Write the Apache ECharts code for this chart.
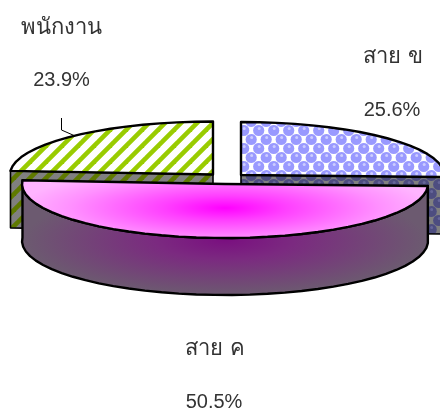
<!DOCTYPE html>
<html>
<head>
<meta charset="utf-8">
<style>html,body{margin:0;padding:0;background:#fff}#c{width:440px;height:410px}</style>
<script src="https://cdn.jsdelivr.net/npm/echarts@6/dist/echarts.min.js"></script>
</head>
<body>
<div id="c"></div>
<script>
// Data, clockwise from 12 o'clock
const categories = ['สาย ข', 'สาย ค', 'พนักงาน'];
const values = [25.6, 50.5, 23.9];
const percentLabels = ['25.6%', '50.5%', '23.9%'];

// Layout of the tilted, exploded pie
const centers = [[241, 175], [225, 184], [213, 174.5]];
const radiiY = [53, 54, 53];
const depths = [57, 57, 57];
const radiusX = 203;
const nameAnchors = [[393, 57], [215, 349], [61, 28]];
const pctAnchors = [[392, 110], [214, 402], [61.5, 80]];

function tile(w, h, draw) {
  const c = document.createElement('canvas');
  c.width = w; c.height = h;
  draw(c.getContext('2d'));
  return c;
}
function stripes(bg, fg) {
  return tile(16, 16, g => {
    g.fillStyle = bg; g.fillRect(0, 0, 16, 16);
    g.strokeStyle = fg; g.lineWidth = 4.6;
    [-16, 0, 16].forEach(o => {
      g.beginPath(); g.moveTo(o - 4, 20); g.lineTo(o + 20, -4); g.stroke();
    });
  });
}
function bubbles(bg, fg, lite) {
  return tile(15, 18, g => {
    g.fillStyle = bg; g.fillRect(0, 0, 15, 18);
    [[3.7, 4.5], [11.2, 13.5], [18.7, 13.5], [-3.8, 13.5], [3.7, 22.5], [11.2, -4.5], [18.7, 4.5]].forEach(p => {
      g.fillStyle = fg;
      g.beginPath(); g.arc(p[0], p[1], 5.6, 0, Math.PI * 2); g.fill();
      g.fillStyle = lite;
      g.beginPath(); g.arc(p[0] + 0.5, p[1] - 2, 1.5, 0, Math.PI * 2); g.fill();
    });
  });
}
const topFills = [
  { image: bubbles('#ffffff', '#9999ff', '#ccccff'), repeat: 'repeat' },
  null,
  { image: stripes('#ffffff', '#99cc00'), repeat: 'repeat' }
];
const wallFills = [
  { image: bubbles('#808080', '#4d4d80', '#666699'), repeat: 'repeat' },
  null,
  { image: stripes('#808080', '#5f7a00'), repeat: 'repeat' }
];

const total = values.reduce((a, b) => a + b, 0);
const pt = (c, ry, deg, dy) => {
  const t = deg * Math.PI / 180;
  return [c[0] + radiusX * Math.sin(t), c[1] - ry * Math.cos(t) + (dy || 0)];
};
const arcPts = (c, ry, a, b, dy) => {
  const n = Math.max(4, Math.round(Math.abs(b - a) / 5));
  const out = [];
  for (let i = 0; i <= n; i++) out.push(pt(c, ry, a + (b - a) * i / n, dy));
  return out;
};
const LINE = '#000';
const LW = 2.4;

function renderSlice(params, api) {
  const i = params.dataIndex;
  const v = api.value(0);
  let start = 0;
  for (let k = 0; k < i; k++) start += values[k] / total * 360;
  const end = start + v / total * 360;
  const c = centers[i], ry = radiiY[i], d = depths[i];
  const children = [];
  const arc = arcPts(c, ry, start, end);

  if (i === 1) {
    // front slice: outer wall, then top face, both with elliptical gradients
    const wall = arc.concat(arcPts(c, ry, end, start, d));
    const kw = 3.6, kt = 5;
    children.push({
      type: 'polygon', z2: 20, scaleY: 1 / kw,
      shape: { points: wall.map(p => [p[0], p[1] * kw]) },
      style: {
        lineWidth: 0,
        fill: { type: 'radial', x: 225, y: 240 * kw, r: 200, global: true,
          colorStops: [{ offset: 0, color: '#7a0f80' }, { offset: 0.35, color: '#7b2a80' }, { offset: 1, color: '#6c5a70' }] }
      }
    });
    children.push({
      type: 'polygon', z2: 21,
      shape: { points: wall }, style: { fill: 'none', stroke: LINE, lineWidth: LW, lineJoin: 'round' }
    });
    const face = arc.concat([c]);
    children.push({
      type: 'polygon', z2: 22, scaleY: 1 / kt,
      shape: { points: face.map(p => [p[0], p[1] * kt]) },
      style: {
        lineWidth: 0,
        fill: { type: 'radial', x: 225, y: 208 * kt, r: 205, global: true,
          colorStops: [{ offset: 0, color: '#ff00ff' }, { offset: 0.3, color: '#ff40ff' }, { offset: 0.75, color: '#ff90ff' }, { offset: 1, color: '#ffb4ff' }] }
      }
    });
    children.push({
      type: 'polygon', z2: 23,
      shape: { points: face }, style: { fill: 'none', stroke: LINE, lineWidth: LW, lineJoin: 'round' }
    });
  } else {
    // back slices: visible cut wall below the near cut edge, then top face
    const rim = i === 0 ? pt(c, ry, end) : pt(c, ry, start);
    const wall = [c, rim, [rim[0], rim[1] + d], [c[0], c[1] + d]];
    children.push({
      type: 'polygon', z2: 1,
      shape: { points: wall },
      style: { fill: wallFills[i], stroke: LINE, lineWidth: 1.6, lineJoin: 'round' }
    });
    children.push({
      type: 'polygon', z2: 2,
      shape: { points: arc.concat([c]) },
      style: { fill: topFills[i], stroke: LINE, lineWidth: LW, lineJoin: 'round' }
    });
  }

  const family = '"Liberation Sans", "Noto Sans", sans-serif';
  const txt = (s, p, size) => ({
    type: 'text', z2: 30, x: p[0], y: p[1],
    style: { text: s, fill: '#333', font: size + 'px ' + family, textAlign: 'center', textVerticalAlign: 'middle' }
  });
  children.push(txt(categories[i], nameAnchors[i], 22));
  children.push(txt(percentLabels[i], pctAnchors[i], 20));

  if (i === 2) {
    // leader line from the label to the rim of the slice
    const hit = pt(c, ry, end - 43);
    children.push({
      type: 'polyline', z2: 30,
      shape: { points: [[pctAnchors[i][0], 118], [pctAnchors[i][0], 130], hit] },
      style: { fill: 'none', stroke: '#000', lineWidth: 1 }
    });
  }
  return { type: 'group', children };
}

const chart = echarts.init(document.getElementById('c'), null, { renderer: 'canvas' });
chart.setOption({
  animation: false,
  backgroundColor: '#fff',
  series: [{
    type: 'custom',
    coordinateSystem: 'none',
    renderItem: renderSlice,
    silent: true,
    data: values.map((v, i) => ({ name: categories[i], value: [v] }))
  }]
});
</script>
</body>
</html>
